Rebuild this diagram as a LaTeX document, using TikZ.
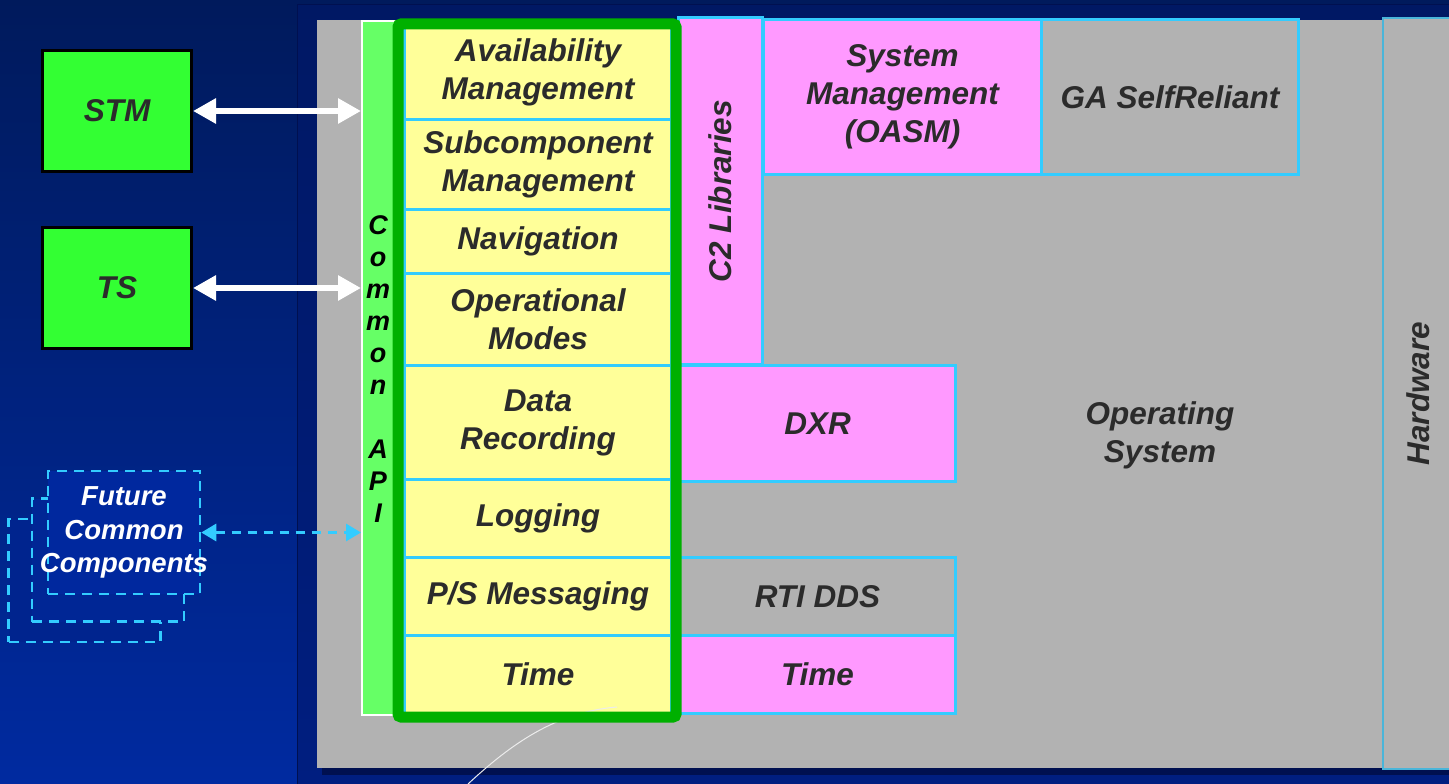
\documentclass[tikz,border=0pt]{standalone}
\usepackage{fontspec}
\setmainfont{Liberation Sans}
\usetikzlibrary{arrows.meta}

\definecolor{bgtop}{RGB}{0,26,92}
\definecolor{bgbot}{RGB}{0,42,160}
\definecolor{slidetop}{RGB}{0,24,100}
\definecolor{slidebot}{RGB}{0,30,128}
\definecolor{shadow}{RGB}{0,16,80}
\definecolor{grey}{RGB}{178,178,178}
\definecolor{pink}{RGB}{255,153,255}
\definecolor{ylw}{RGB}{255,255,153}
\definecolor{sky}{RGB}{51,204,255}
\definecolor{lime}{RGB}{51,255,51}
\definecolor{apigreen}{RGB}{102,255,102}
\definecolor{framegreen}{RGB}{0,176,0}
\definecolor{txt}{RGB}{43,43,43}
\definecolor{futfill}{RGB}{0,40,158}

\newcommand\bigfont{\fontsize{31.5}{38}\selectfont}

\tikzset{
  lbl/.style={font=\bfseries\itshape\bigfont, text=txt, align=center},
  blk/.style={lbl, draw=sky, line width=3pt, inner sep=0pt, anchor=north west},
  cell/.style={blk, fill=ylw, minimum width=267pt},
  ext/.style={blk, fill=pink},
  extgrey/.style={blk, fill=grey},
  tool/.style={lbl, draw=black, line width=3pt, fill=lime, minimum width=149pt, minimum height=121pt},
  futbox/.style={draw=sky, line width=2.5pt, dash pattern=on 10pt off 7pt, minimum width=152pt, minimum height=123pt},
  wharrow/.style={draw=white, line width=6.5pt, {Triangle[length=23pt,width=24pt]}-{Triangle[length=23pt,width=24pt]}},
  dsharrow/.style={draw=sky, line width=3pt, dash pattern=on 9pt off 7pt, {Triangle[length=15pt,width=17pt]}-{Triangle[length=15pt,width=17pt]}}
}

\begin{document}
\begin{tikzpicture}[x=1pt, y=-1pt]
    \useasboundingbox (0,0) rectangle (1449,784);
    \shade[top color=bgtop, bottom color=bgbot] (0,0) rectangle (1449,784);
    \shade[top color=slidetop, bottom color=slidebot] (297,5) rectangle (1449,784);
    \draw[shadow, line width=1pt] (297,784) -- (297,5) -- (1449,5);

    % software panel
    \fill[shadow] (322,26) rectangle (1449,775);
    \fill[grey] (317,20) rectangle (1449,768);
    \node[blk, fill=grey, draw=sky!70!gray, line width=1.5pt, rotate=90, anchor=center,
          minimum width=751pt, minimum height=70pt] (hw) at (1418,393.5) {Hardware};

    \node[anchor=north west, draw=white, line width=2pt, fill=apigreen, inner sep=0pt,
          minimum width=40pt, minimum height=694pt] (api) at (361,20) {};
    \node[font=\bfseries\itshape\fontsize{27}{32}\selectfont, align=center] (apitxt) at (378,369)
          {C\\o\\m\\m\\o\\n\\~\\A\\P\\I};

    % common services
    \node[cell, minimum height=94pt] (avail) at (403,24) {Availability\\Management};
    \node[cell, minimum height=90pt] (subc) at (403,118) {Subcomponent\\Management};
    \node[cell, minimum height=64pt] (nav) at (403,208) {Navigation};
    \node[cell, minimum height=92pt] (opm) at (403,272) {Operational\\Modes};
    \node[cell, minimum height=114pt] (drec) at (403,364) {Data\\Recording};
    \node[cell, minimum height=78pt] (logg) at (403,478) {Logging};
    \node[cell, minimum height=78pt] (psm) at (403,556) {P/S Messaging};
    \node[cell, minimum height=78pt] (time) at (403,634) {Time};

    \node[ext, rotate=90, anchor=center, minimum width=346pt, minimum height=84pt] (c2) at (720,191) {C2 Libraries};
    \node[ext, minimum width=278pt, minimum height=155pt] (sysm) at (762,18) {System\\Management\\(OASM)};
    \node[extgrey, minimum width=257pt, minimum height=155pt] (gasr) at (1040,18) {GA SelfReliant};
    \node[ext, minimum width=276pt, minimum height=116pt] (dxr) at (678,364) {DXR};
    \node[extgrey, minimum width=276pt, minimum height=78pt] (rti) at (678,556) {RTI DDS};
    \node[ext, minimum width=276pt, minimum height=78pt] (time2) at (678,634) {Time};
    \node[lbl] (os) at (1160,435) {Operating\\System};

    \draw[white!85!gray, line width=1pt] (468,784) .. controls (510,745) and (555,712) .. (617,707);
    \draw[framegreen, line width=11pt, rounded corners=3pt] (398,24) rectangle (676,717);

    % users of the api
    \node[tool] (stm) at (117,111) {STM};
    \node[tool] (ts) at (117,288) {TS};
    \draw[wharrow] (stm) -- (stm -| api.west);
    \draw[wharrow] (ts) -- (ts -| api.west);

    \node[futbox, fill=futfill!90!black] (fcc3) at (84.5,580.5) {};
    \node[futbox, fill=futfill!94!black] (fcc2) at (108,560) {};
    \node[futbox, fill=futfill] (fcc) at (124,532.5) {};
    \node[font=\bfseries\itshape\fontsize{27.5}{33.5}\selectfont, text=white, align=center] (fcctxt) at (fcc.center) {Future\\Common\\Components};
    \draw[dsharrow] (fcc.east) -- (fcc.east -| api.west);
\end{tikzpicture}
\end{document}
